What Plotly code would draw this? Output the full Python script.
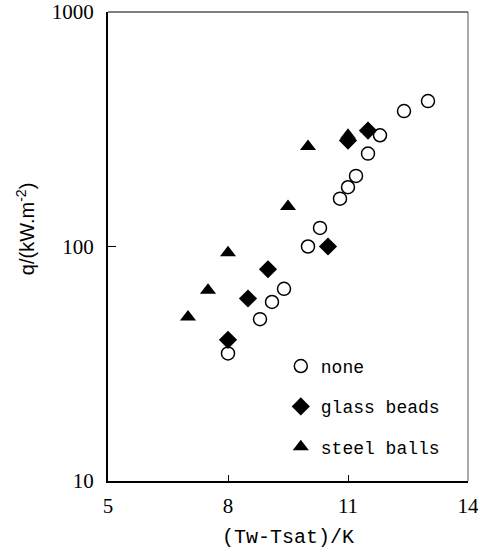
import plotly.graph_objects as go

# Data
none_x = [8.0, 8.8, 9.1, 9.4, 10.0, 10.3, 10.8, 11.0, 11.2, 11.5, 11.8, 12.4, 13.0]
none_y = [35, 49, 58, 66, 100, 120, 160, 179, 200, 249, 298, 378, 417]

glass_x = [8.0, 8.5, 9.0, 10.5, 11.0, 11.5]
glass_y = [40, 60, 80, 100, 283, 312]

steel_x = [7.0, 7.5, 8.0, 9.5, 10.0, 11.0, 11.5]
steel_y = [50, 65, 94, 148, 267, 298, 318]

x_ticks = [5, 8, 11, 14]
y_ticks = [10, 100, 1000]
y_ticklabels = ["10", "100", "1000"]

fig = go.Figure()
fig.add_trace(go.Scatter(
    x=none_x, y=none_y, mode="markers", name="none", legendgroup="a",
    marker=dict(symbol="circle", size=13, color="white",
                line=dict(color="black", width=1.5)),
))
fig.add_trace(go.Scatter(
    x=glass_x, y=glass_y, mode="markers", name="glass beads", legendgroup="b",
    marker=dict(symbol="diamond", size=14, color="black",
                line=dict(color="black", width=0)),
))
fig.add_trace(go.Scatter(
    x=steel_x, y=steel_y, mode="markers", name="steel balls", legendgroup="c",
    marker=dict(symbol="triangle-up", size=14, color="black",
                line=dict(color="black", width=0)),
))

fig.update_layout(
    width=478, height=554,
    margin=dict(l=108, r=10, t=12, b=73, autoexpand=False),
    paper_bgcolor="white", plot_bgcolor="white",
    showlegend=True,
    legend=dict(
        x=0.48, y=0.284, xanchor="left", yanchor="top",
        font=dict(family="Liberation Mono", size=18, color="black"),
        bgcolor="rgba(0,0,0,0)", tracegroupgap=14,
        traceorder="grouped", itemwidth=30,
    ),
    xaxis=dict(
        range=[5, 14], tickvals=x_ticks, ticktext=[str(v) for v in x_ticks],
        showgrid=False, zeroline=False, automargin=False,
        ticklabeloverflow="allow", ticklabelstandoff=5,
        showline=True, linecolor="black", linewidth=2,
        ticks="inside", ticklen=6, tickwidth=1, tickcolor="black",
        tickfont=dict(family="Liberation Serif", size=21, color="black"),
        title=dict(text="(Tw-Tsat)/K", standoff=12,
                   font=dict(family="Liberation Mono", size=20, color="black")),
    ),
    yaxis=dict(
        type="log", range=[1, 3], tickvals=y_ticks, ticktext=y_ticklabels,
        showgrid=False, zeroline=False, automargin=False,
        ticklabeloverflow="allow",
        showline=True, linecolor="black", linewidth=2,
        ticks="inside", ticklen=8, tickwidth=1, tickcolor="black",
        ticklabelstandoff=8,
        tickfont=dict(family="Liberation Serif", size=21, color="black"),
    ),
    annotations=[
        dict(text="q/(kW.m<sup>-2</sup>)", xref="paper", yref="paper",
             x=0, y=0.537, xshift=-83, xanchor="center", yanchor="middle",
             textangle=-90, showarrow=False,
             font=dict(family="Liberation Sans", size=20, color="black")),
    ],
    shapes=[
        dict(type="line", xref="paper", yref="paper", x0=0, x1=1, y0=1, y1=1,
             line=dict(color="black", width=1)),
        dict(type="line", xref="paper", yref="paper", x0=1, x1=1, y0=0, y1=1,
             line=dict(color="#555555", width=1)),
    ],
)

fig.write_html("out.html", config={"displayModeBar": False},
               post_script="document.body.style.margin='0';")
